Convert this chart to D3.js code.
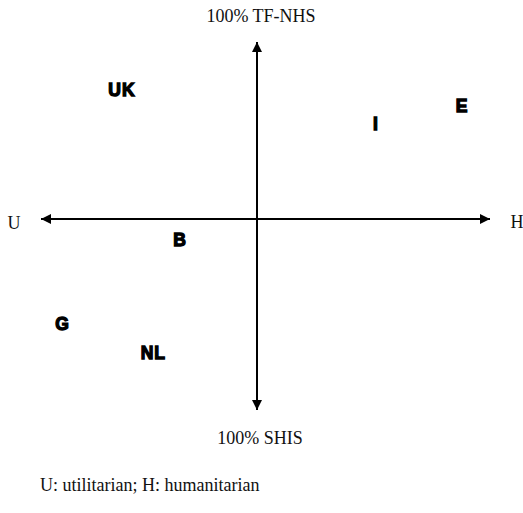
<!DOCTYPE html>
<html>
<head>
<meta charset="utf-8">
<script src="https://cdn.jsdelivr.net/npm/d3@7"></script>
<style>
body{margin:0;background:#fff;}
.serif{font-family:"Liberation Serif","DejaVu Serif",serif;font-size:18px;fill:#111;}
.country{font-family:"Liberation Sans",Arial,sans-serif;font-weight:bold;font-size:17.5px;fill:#000;stroke:#000;stroke-width:1.3px;letter-spacing:1px;}
</style>
</head>
<body>
<script>
// countries placed on the U-H (x) / SHIS-TF-NHS (y) plane, -1..1
var countries = ["UK","I","E","B","G","NL"];
var xVals = [-0.625, 0.51, 0.88, -0.356, -0.90, -0.48];
var yVals = [0.73, 0.54, 0.64, -0.105, -0.545, -0.70];

var xEnds = ["U","H"];
var yEnds = ["100% SHIS","100% TF-NHS"];
var note = "U: utilitarian; H: humanitarian";

var W = 523, H = 513;

var svg = d3.select("body").append("svg")
    .attr("width",W)
    .attr("height",H);

var x = d3.scaleLinear().domain([-1,0,1]).range([41,257,490]);
var y = d3.scaleLinear().domain([-1,0,1]).range([410,219,42]);

var defs = svg.append("defs");
defs.append("marker")
    .attr("id","arr")
    .attr("viewBox","0 0 10 10")
    .attr("refX",10)
    .attr("refY",5)
    .attr("markerWidth",7)
    .attr("markerHeight",5)
    .attr("markerUnits","strokeWidth")
    .attr("orient","auto-start-reverse")
    .append("path")
    .attr("d","M0,0L10,5L0,10Z")
    .attr("fill","#000");

// axes with arrow heads at both ends
svg.append("line")
    .attr("x1",x(-1)).attr("x2",x(1))
    .attr("y1",y(0)).attr("y2",y(0))
    .attr("stroke","#000")
    .attr("stroke-width",2)
    .attr("marker-start","url(#arr)")
    .attr("marker-end","url(#arr)");

svg.append("line")
    .attr("x1",x(0)).attr("x2",x(0))
    .attr("y1",y(-1)).attr("y2",y(1))
    .attr("stroke","#000")
    .attr("stroke-width",2)
    .attr("marker-start","url(#arr)")
    .attr("marker-end","url(#arr)");

// axis end labels
svg.append("text").attr("class","serif")
    .attr("x",14).attr("y",229)
    .attr("text-anchor","middle")
    .text(xEnds[0]);
svg.append("text").attr("class","serif")
    .attr("x",517).attr("y",228)
    .attr("text-anchor","middle")
    .text(xEnds[1]);
svg.append("text").attr("class","serif")
    .attr("x",261).attr("y",22)
    .attr("text-anchor","middle")
    .text(yEnds[1]);
svg.append("text").attr("class","serif")
    .attr("x",260).attr("y",444)
    .attr("text-anchor","middle")
    .text(yEnds[0]);

svg.selectAll(".country")
    .data(countries)
    .enter()
    .append("text")
    .attr("class","country")
    .attr("x",function(d,i){ return x(xVals[i]); })
    .attr("y",function(d,i){ return y(yVals[i]) + 6.5; })
    .attr("text-anchor","middle")
    .text(function(d){ return d; });

svg.append("text").attr("class","serif")
    .attr("x",40).attr("y",491)
    .text(note);
</script>
</body>
</html>
